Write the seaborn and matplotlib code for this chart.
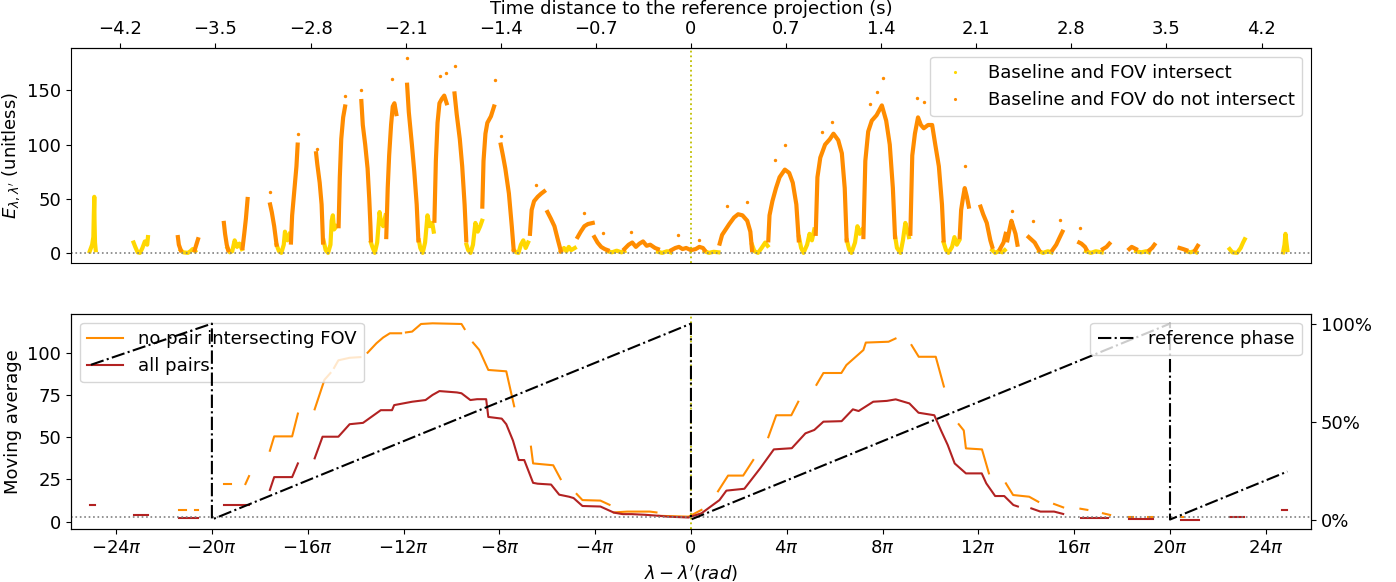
import numpy as np
import pandas as pd
import matplotlib
matplotlib.use("Agg")
import matplotlib.pyplot as plt
from matplotlib.lines import Line2D
from matplotlib.ticker import FuncFormatter, PercentFormatter
import seaborn as sns

NA = np.nan

# --- top panel: E values, x in units of pi (NaN splits the point runs) ---
intersect_x = [-25.1, -25.0, -24.95, -24.93, -24.91, -24.9, -24.88, -24.85, NA,
               -23.27, -23.2, -23.1, -23.0, -22.9, -22.8, -22.7, -22.67, NA,
               -21.3, -21.2, -21.0, -20.9, -20.8, -20.7, NA,
               -19.35, -19.25, -19.15, -19.05, -18.95, -18.85, -18.75, NA,
               -17.3, -17.2, -17.1, -17.0, -16.95, -16.85, -16.75, NA,
               -15.34, -15.25, -15.15, -15.05, -15.0, -14.95, -14.9, -14.8, NA,
               -13.36, -13.3, -13.2, -13.1, -13.0, -12.95, -12.85, -12.75, NA,
               -11.36, -11.3, -11.2, -11.1, -11.0, -10.9, -10.8, -10.74, NA,
               -9.37, -9.3, -9.2, -9.1, -9.0, -8.9, -8.8, -8.72, NA,
               -7.39, -7.3, -7.2, -7.1, -7.0, -6.9, -6.8, NA,
               -5.43, -5.3, -5.2, -5.1, -5.0, -4.85, NA,
               -3.48, -3.3, -3.1, -2.9, -2.78, NA,
               -1.38, -1.2, -1.0, -0.85, NA,
               0.57, 0.75, 0.95, 1.15, NA,
               2.55, 2.65, 2.8, 2.95, 3.1, 3.2, NA,
               4.51, 4.6, 4.7, 4.85, 4.95, 5.05, 5.15, NA,
               6.51, 6.6, 6.7, 6.85, 6.95, 7.05, 7.15, NA,
               8.53, 8.6, 8.75, 8.85, 8.95, 9.05, 9.1, NA,
               10.55, 10.65, 10.75, 10.9, 11.0, 11.1, 11.2, NA,
               12.58, 12.7, 12.85, 13.0, 13.1, NA,
               14.53, 14.7, 14.9, 15.05, NA,
               16.49, 16.7, 16.9, 17.15, NA,
               18.58, 18.8, 19.0, 19.12, NA,
               20.68, 20.85, 21.0, 21.1, NA,
               22.49, 22.6, 22.8, 22.95, 23.05, 23.12, NA,
               24.72, 24.78, 24.82, 24.86, 24.9]
intersect_y = [2, 8, 15, 35, 52, 30, 10, 3, NA,
               10, 6, 1, 0.5, 5, 11, 8, 15, NA,
               3, 1, 0.5, 2, 4, 2, NA,
               5, 1, 2, 12, 6, 9, 4, NA,
               8, 2, 0.5, 8, 20, 12, 18, NA,
               12, 3, 0.5, 8, 30, 35, 22, 25, NA,
               10, 6, 0.5, 10, 38, 30, 25, 35, NA,
               12, 5, 0.5, 10, 35, 25, 28, 20, NA,
               8, 3, 0.5, 8, 28, 20, 25, 30, NA,
               3, 1, 0.5, 8, 12, 5, 10, NA,
               2, 5, 2, 6, 3, 5, NA,
               2, 1, 2.5, 1, 2, NA,
               1.5, 0.5, 2, 1, NA,
               2, 0.5, 1.5, 1, NA,
               8, 2, 0.5, 5, 10, 7, NA,
               15, 5, 0.5, 8, 18, 12, 22, NA,
               12, 4, 0.5, 10, 25, 18, 22, NA,
               15, 5, 0.5, 12, 28, 20, 15, NA,
               10, 3, 0.5, 6, 15, 8, 12, NA,
               3, 0.5, 2, 1, 3, NA,
               2, 0.5, 2, 1, NA,
               2, 0.5, 2, 1, NA,
               2, 1, 2, 1, NA,
               2, 1, 2, 1, NA,
               4, 1, 0.5, 5, 10, 13, NA,
               1, 8, 18, 10, 3]

apart_x = [-21.42, -21.38, -21.3, NA, -20.72, -20.65, -20.58, NA,
           -19.5, -19.45, -19.38, -19.32, NA, -18.72, -18.65, -18.58, -18.51, NA,
           -17.57, -17.5, -17.4, -17.3, NA, -16.7, -16.65, -16.55, -16.47, -16.42, NA,
           -15.65, -15.6, -15.5, -15.42, -15.36, NA, -14.71, -14.66, -14.6, -14.52, -14.44, NA,
           -13.76, -13.7, -13.6, -13.5, -13.43, -13.38, -13.36, NA,
           -12.72, -12.66, -12.6, -12.52, -12.45, -12.38, -12.3, NA,
           -11.85, -11.78, -11.65, -11.55, -11.45, -11.38, NA,
           -10.71, -10.65, -10.58, -10.5, -10.4, -10.3, -10.2, NA,
           -9.87, -9.78, -9.65, -9.55, -9.45, -9.38, NA,
           -8.71, -8.66, -8.58, -8.5, -8.35, -8.22, NA,
           -7.94, -7.85, -7.75, -7.6, -7.48, -7.4, NA,
           -6.72, -6.65, -6.55, -6.4, -6.25, -6.13, NA,
           -5.99, -5.85, -5.7, -5.55, -5.43, NA,
           -4.73, -4.6, -4.45, -4.3, -4.1, NA,
           -4.03, -3.9, -3.75, -3.6, -3.48, NA,
           -2.78, -2.6, -2.45, -2.3, -2.15, -2.0, -1.85, -1.7, -1.5, -1.38, NA,
           -0.82, -0.65, -0.5, -0.35, -0.2, 0.0, 0.2, 0.35, 0.5, 0.57, NA,
           1.2, 1.3, 1.45, 1.6, 1.8, 1.97, 2.15, 2.35, 2.48, 2.55, NA,
           3.23, 3.28, 3.4, 3.55, 3.7, 3.92, 4.1, 4.25, 4.4, 4.5, NA,
           5.21, 5.28, 5.4, 5.6, 5.8, 5.95, 6.15, 6.3, 6.42, 6.5, NA,
           7.2, 7.28, 7.4, 7.55, 7.75, 7.97, 8.15, 8.3, 8.43, 8.52, NA,
           9.16, 9.24, 9.35, 9.48, 9.6, 9.72, 9.9, 10.07, 10.2, 10.35, 10.48, 10.55, NA,
           11.22, 11.28, 11.35, 11.43, 11.52, 11.6, NA,
           12.09, 12.2, 12.35, 12.5, 12.58, NA,
           12.9, 13.05, 13.14, NA, 13.21, 13.3, 13.38, 13.45, 13.55, 13.63, NA,
           14.1, 14.2, 14.35, 14.53, NA, 15.09, 15.25, 15.4, 15.51, NA,
           16.21, 16.3, 16.45, 16.5, NA, 17.2, 17.35, 17.47, NA,
           18.3, 18.4, 18.58, NA, 19.14, 19.25, 19.35, NA,
           20.4, 20.55, 20.68, NA, 21.05, 21.16]
apart_y = [15, 8, 3, NA, 3, 8, 13, NA,
           28, 18, 8, 3, NA, 5, 18, 32, 50, NA,
           45, 38, 25, 8, NA, 10, 35, 60, 80, 100, NA,
           92, 82, 65, 45, 10, NA, 25, 70, 105, 125, 135, NA,
           140, 118, 100, 78, 50, 25, 12, NA,
           15, 60, 90, 118, 135, 138, 128, NA,
           155, 130, 100, 75, 45, 12, NA,
           30, 85, 120, 138, 142, 145, 138, NA,
           147, 128, 105, 80, 45, 12, NA,
           43, 85, 110, 120, 126, 135, NA,
           100, 90, 78, 55, 25, 3, NA,
           18, 40, 48, 52, 55, 57, NA,
           38, 32, 25, 12, 2, NA,
           15, 20, 25, 27, 28, NA,
           15, 10, 6, 4, 3, NA,
           4, 8, 10, 6, 9, 11, 7, 8, 5, 4, NA,
           3, 5, 6, 4, 5, 3, 4, 6, 5, 3, NA,
           9, 17, 22, 27, 33, 36, 35, 30, 20, 3, NA,
           12, 35, 48, 60, 70, 77, 74, 65, 45, 12, NA,
           18, 70, 88, 100, 105, 110, 104, 92, 60, 12, NA,
           15, 85, 112, 122, 127, 136, 122, 100, 60, 15, NA,
           18, 90, 110, 125, 118, 115, 118, 118, 100, 80, 45, 12, NA,
           15, 40, 50, 60, 52, 43, NA,
           43, 36, 28, 12, 6, NA,
           4, 10, 18, NA, 12, 22, 30, 25, 18, 8, NA,
           15, 13, 10, 3, NA, 3, 8, 15, 20, NA,
           10, 9, 6, 4, NA, 4, 6, 9, NA,
           4, 6, 4, NA, 3, 5, 8, NA,
           5, 4, 3, NA, 3, 7]

# isolated high points above the arcs
spike_x = [-17.58, -16.42, -15.63, -14.45, -13.78, -12.47, -11.86, -10.46, -10.22, -9.87,
           -8.19, -7.94, -6.46, -4.48, -3.66, -2.5, -0.54, 0.33, 1.51, 2.32, 3.5, 3.92,
           5.49, 5.88, 7.48, 7.76, 8.0, 9.44, 9.72, 11.43, 13.42, 14.26, 15.42, 16.24]
spike_y = [56, 110, 96, 145, 150, 160, 180, 163, 166, 172,
           159, 108, 63, 37, 19, 20, 17, 12, 44, 47, 86, 100,
           112, 121, 137, 148, 161, 143, 139, 80, 39, 30, 31, 23]

# --- bottom panel: moving averages, x in units of pi ---
avg_apart_x = [-21.36, -21.1, NA, -20.7, -20.57, NA, -19.49, -19.2, NA, -18.6, -18.45, NA,
               -17.58, -17.4, -16.65, -16.41, NA,
               -15.71, -15.3, -15.05, NA, -14.9, -14.72, -14.25, -13.8, NA,
               -13.5, -13.13, -12.85, -12.57, -12.1, NA,
               -11.9, -11.64, -11.27, -10.79, -9.58, -9.45, NA,
               -9.1, -8.84, -8.46, -7.71, -7.38, NA,
               -6.68, -6.59, -5.75, -5.44, NA, -4.77, -4.53, -3.78, -3.4, NA,
               -3.22, -2.66, -1.72, -1.44, NA, -1.35, -0.1, 0.44, NA,
               1.13, 1.55, 2.18, 2.6, NA, 3.23, 3.56, 4.19, 4.48, NA,
               5.24, 5.53, 6.28, 6.49, 7.2, 7.3, 8.25, 8.54, NA,
               9.21, 9.51, 10.22, 10.56, NA, 11.18, 11.39, 11.48, 12.15, 12.44, NA,
               13.15, 13.45, 14.12, 14.5, NA, 15.16, 15.54, NA,
               16.26, 16.55, NA, 17.2, 17.5, NA, 18.27, 18.45, NA, 19.1, 19.31, NA,
               20.44, 20.55]
avg_apart_y = [6.9, 6.9, NA, 6.9, 6.9, NA, 22.3, 22.3, NA, 22.3, 27, NA,
               42, 50.5, 50.5, 64, NA,
               66.5, 84, 88, NA, 91, 95.5, 97, 97.4, NA,
               100, 105.6, 109, 111.5, 111.5, NA,
               112, 112.5, 117, 117.4, 117, 114, NA,
               106, 101.7, 89.8, 89, 68.3, NA,
               44.4, 34.5, 33.4, 25.2, NA, 16.4, 12.8, 12.5, 10, NA,
               5.5, 6, 6, 5.5, NA, 3.5, 3, 7, NA,
               18, 27.3, 27.3, 36.5, NA, 50, 63, 63, 71, NA,
               81, 88, 88, 92.7, 101.6, 106, 106.5, 108.4, NA,
               104.5, 97.6, 97.6, 80, NA, 57.7, 54, 43.4, 42.8, 28.6, NA,
               22.7, 15.8, 14.8, 11.8, NA, 10.5, 8.5, NA,
               7.7, 7, NA, 5, 4, NA, 3, 3, NA, 3, 3, NA,
               2.5, 2.5]

avg_all_x = [-25.1, -24.87, NA, -23.27, -22.67, NA, -21.36, -20.57, NA, -19.49, -18.46, NA,
             -17.58, -17.4, -16.65, -16.41, NA,
             -15.71, -15.38, -14.72, -14.25, -13.69, -12.95, -12.48, -12.39, -11.64, -11.08,
             -10.79, -10.5, -9.77, -9.58, -9.21, -8.93, -8.55, -8.46, -7.9, -7.71, -7.43,
             -7.19, -6.96, -6.59, -6.4, -5.84, -5.5, -5.09, -4.9, -4.53, -3.78, -3.22,
             -2.85, -2.47, -1.91, -1.35, -0.98, -0.1, 0.44, 1.19, 1.48, 2.23, 2.89, 3.46,
             4.21, 4.78, 5.15, 5.53, 6.29, 6.76, 7.0, 7.61, 8.18, 8.55, 9.12, 9.5, 10.16,
             10.44, 10.72, 11.01, 11.48, 12.14, 12.33, 12.7, 13.08, 13.46, 13.65, NA,
             14.21, 14.59, 15.16, 15.54, NA, 16.29, 17.42, NA, 18.27, 19.31, NA,
             20.44, 21.19, NA, 22.51, 23.08, NA, 24.69, 24.87]
avg_all_y = [10, 10, NA, 4.1, 4.1, NA, 2.2, 2.2, NA, 10, 10, NA,
             18.8, 26.4, 26.4, 34.5, NA,
             37.5, 50.3, 50.3, 57.7, 58.5, 66, 66, 69, 71, 72,
             75, 77.3, 76.5, 76, 72, 72.5, 72.5, 62, 61, 57.7, 48,
             36.5, 36.5, 23, 22.5, 22, 16, 14.8, 14, 9.3, 9, 5.4,
             4.5, 4.5, 4.1, 3.5, 3, 2.5, 5, 12.8, 18.4, 19.5, 31.6, 42.8,
             43.5, 52.3, 54.3, 59.2, 59.5, 66.5, 65.5, 71, 71.5, 72.4, 70, 64.5, 63,
             54, 45.4, 34.5, 28.6, 28.6, 22.7, 15.2, 15.2, 9.9, 9, NA,
             7.9, 6, 6, 4.6, NA, 2.2, 2.2, NA, 1.4, 1.4, NA,
             1, 1, NA, 3, 3, NA, 7, 7]

phase_x = [-25.05, -20, -20, 0, 0, 20, 20, 24.9]
phase_y = [0.79, 1.0, 0.0, 1.0, 0.0, 1.0, 0.0, 0.245]

pi_ticks = [-24, -20, -16, -12, -8, -4, 0, 4, 8, 12, 16, 20, 24]
time_ticks = [-4.2, -3.5, -2.8, -2.1, -1.4, -0.7, 0, 0.7, 1.4, 2.1, 2.8, 3.5, 4.2]
OMEGA = 17.82  # rad per second, reads off the two x scales
baseline_level = 2.5


def to_frame(xs, ys):
    df = pd.DataFrame({"x": np.asarray(xs, float) * np.pi, "y": np.asarray(ys, float)})
    df["seg"] = df["y"].isna().cumsum()
    return df.dropna()


plt.rcParams["font.size"] = 13
fig, (ax_top, ax_bot) = plt.subplots(2, 1, figsize=(13.96, 5.82), dpi=100, sharex=True)
fig.subplots_adjust(left=0.0509, right=0.939, top=0.918, bottom=0.0905, hspace=0.235)

GOLD = "#FFD700"
ORANGE = "#FF8C00"
RED = "#B22222"

# top panel
sns.lineplot(data=to_frame(intersect_x, intersect_y), x="x", y="y", units="seg",
             estimator=None, sort=False, color=GOLD, lw=3.0, ax=ax_top, legend=False)
sns.lineplot(data=to_frame(apart_x, apart_y), x="x", y="y", units="seg",
             estimator=None, sort=False, color=ORANGE, lw=3.0, ax=ax_top, legend=False)
sns.scatterplot(x=np.array(spike_x) * np.pi, y=spike_y, color=ORANGE, s=6,
                linewidth=0, ax=ax_top, legend=False)
ax_top.axhline(0, color="gray", ls=":", lw=1.2)
ax_top.axvline(0, color="y", ls=":", lw=1.3)
ax_top.set_ylim(-9, 189)
ax_top.set_yticks([0, 50, 100, 150])
ax_top.set_ylabel(r"$E_{\lambda,\lambda'}$ (unitless)")
ax_top.set_xlabel("")
ax_top.tick_params(axis="x", bottom=False, labelbottom=False)

top_handles = [Line2D([], [], ls="none", marker=".", ms=2.5, color=GOLD),
               Line2D([], [], ls="none", marker=".", ms=2.5, color=ORANGE)]
ax_top.legend(top_handles, ["Baseline and FOV intersect", "Baseline and FOV do not intersect"],
              loc="upper right", fontsize=13)

sec = ax_top.secondary_xaxis("top", functions=(lambda x: x / OMEGA, lambda t: t * OMEGA))
sec.set_xticks(time_ticks)
sec.xaxis.set_major_formatter(FuncFormatter(
    lambda v, _: "0" if abs(v) < 1e-9 else f"{v:.1f}".replace("-", "\u2212")))
sec.set_xlabel("Time distance to the reference projection (s)")

# bottom panel
sns.lineplot(data=to_frame(avg_apart_x, avg_apart_y), x="x", y="y", units="seg",
             estimator=None, sort=False, color=ORANGE, lw=1.5, ax=ax_bot, legend=False)
sns.lineplot(data=to_frame(avg_all_x, avg_all_y), x="x", y="y", units="seg",
             estimator=None, sort=False, color=RED, lw=1.5, ax=ax_bot, legend=False)
ax_bot.axhline(baseline_level, color="gray", ls=":", lw=1.2)
ax_bot.axvline(0, color="y", ls=":", lw=1.3)
ax_bot.set_ylim(-4.5, 123)
ax_bot.set_yticks([0, 25, 50, 75, 100])
ax_bot.set_ylabel("Moving average")
ax_bot.set_xlabel(r"$\lambda - \lambda'(rad)$")
ax_bot.set_xlim(-25.88 * np.pi, 25.88 * np.pi)
ax_bot.set_xticks(np.array(pi_ticks) * np.pi)
ax_bot.xaxis.set_major_formatter(FuncFormatter(
    lambda v, _: "0" if abs(v) < 1e-9 else rf"${round(v / np.pi)}\pi$"))
bot_handles = [Line2D([], [], color=ORANGE, lw=1.5), Line2D([], [], color=RED, lw=1.5)]
ax_bot.legend(bot_handles, ["no pair intersecting FOV", "all pairs"], loc="upper left", fontsize=13)

ax2 = ax_bot.twinx()
sns.lineplot(x=np.array(phase_x) * np.pi, y=phase_y, sort=False, estimator=None,
             color="black", ls="-.", lw=1.5, ax=ax2, legend=False)
ax2.set_ylim(-0.05, 1.05)
ax2.set_yticks([0, 0.5, 1.0])
ax2.yaxis.set_major_formatter(PercentFormatter(1.0, decimals=0))
ax2.legend([Line2D([], [], color="black", ls="-.", lw=1.5)], ["reference phase"],
           loc="upper right", fontsize=13)

fig.savefig("out.png", dpi=100)
